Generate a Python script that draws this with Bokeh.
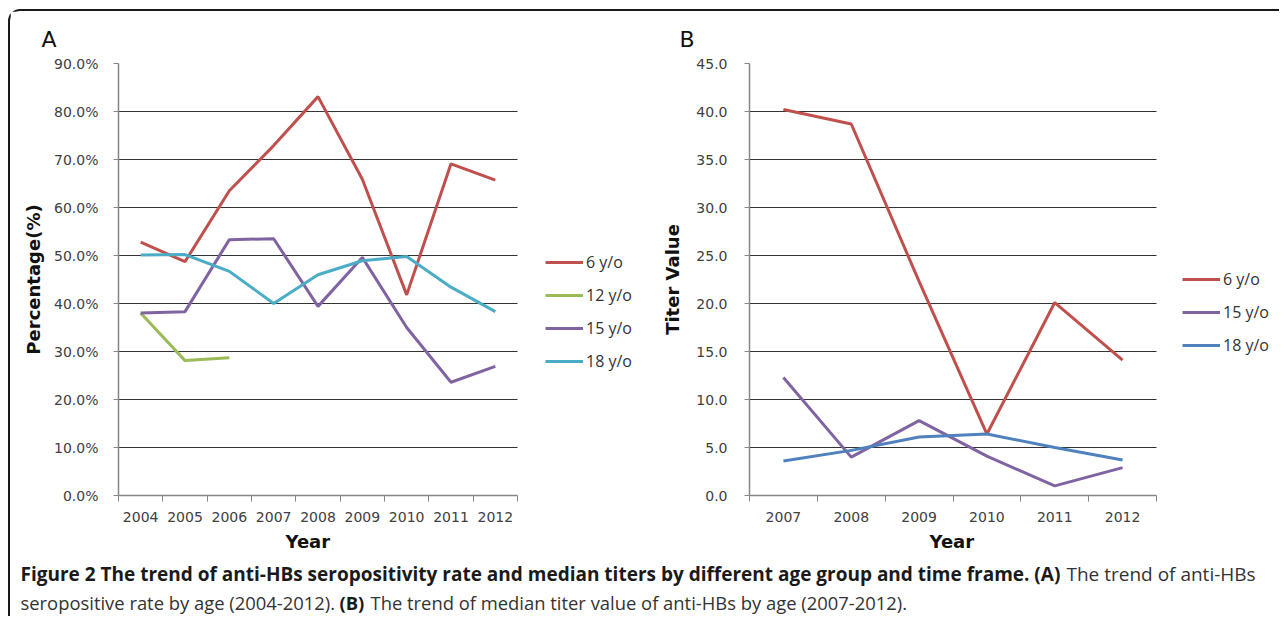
from bokeh.plotting import figure
from bokeh.models import Range1d, FixedTicker, PrintfTickFormatter, Legend, LegendItem, Title
from bokeh.layouts import row, column
from bokeh.embed import file_html
from bokeh.resources import INLINE
from bokeh.core.properties import value

# ---------------- data ----------------
years_a = ["2004", "2005", "2006", "2007", "2008", "2009", "2010", "2011", "2012"]
pct_6 = [52.8, 48.7, 63.5, 72.9, 83.1, 65.9, 41.8, 69.1, 65.7]
pct_12 = [38.0, 28.1, 28.7]
pct_15 = [38.0, 38.3, 53.3, 53.5, 39.4, 49.6, 35.0, 23.6, 26.9]
pct_18 = [50.1, 50.2, 46.7, 40.0, 46.0, 48.9, 49.8, 43.4, 38.3]
yticks_a = [0, 10, 20, 30, 40, 50, 60, 70, 80, 90]

years_b = ["2007", "2008", "2009", "2010", "2011", "2012"]
titer_6 = [40.2, 38.7, 22.3, 6.4, 20.1, 14.1]
titer_15 = [12.3, 4.0, 7.8, 4.1, 1.0, 2.9]
titer_18 = [3.6, 4.7, 6.1, 6.4, 5.0, 3.7]
yticks_b = [0, 5, 10, 15, 20, 25, 30, 35, 40, 45]

RED = "#C0504D"
GREEN = "#9BBB59"
PURPLE = "#8064A2"
CYAN = "#4BACC6"
BLUE = "#4F81BD"

TICK_FONT = "DejaVu Sans"


def make_panel(title, years, yticks, ymax, fmt, ylabel, plot_w, extra_w, frame_h,
               mb_left, mb_top, mb_bottom, title_offset, xlabel_offset,
               ylab_standoff, ytick_standoff):
    n = len(years)
    # the frame also holds the legend area to the right of the plotted categories
    x_end = n * (plot_w + extra_w) / plot_w
    p = figure(frame_width=plot_w + extra_w, frame_height=frame_h, title=title,
               x_range=Range1d(0, x_end), y_range=Range1d(0, ymax),
               toolbar_location=None, output_backend="svg",
               min_border_left=mb_left, min_border_right=2,
               min_border_top=mb_top, min_border_bottom=mb_bottom)
    p.outline_line_color = None
    p.background_fill_color = "white"
    p.border_fill_color = "white"

    p.title.align = "left"
    p.title.offset = title_offset
    p.title.text_font = TICK_FONT
    p.title.text_font_size = "22px"
    p.title.text_font_style = "normal"
    p.title.text_color = "#111111"
    p.title.standoff = 23

    centers = [i + 0.5 for i in range(n)]
    xa = p.xaxis[0]
    xa.bounds = (0, n)
    xa.ticker = FixedTicker(ticks=centers, minor_ticks=list(range(n + 1)))
    xa.major_label_overrides = {c: y for c, y in zip(centers, years)}
    xa.major_tick_out = 0
    xa.major_tick_in = 0
    xa.minor_tick_out = 6
    xa.minor_tick_in = 0
    xa.minor_tick_line_color = "#868686"
    xa.axis_line_color = "#868686"
    xa.axis_line_width = 1.5
    xa.major_label_text_font = TICK_FONT
    xa.major_label_text_font_size = "14px"
    xa.major_label_text_color = "#404040"
    xa.major_label_standoff = 10

    # x axis title, centred under the category part of the frame
    xt = Title(text="Year", align="left", offset=xlabel_offset,
               text_font=TICK_FONT, text_font_style="bold", text_font_size="18px",
               text_color="#111111", standoff=9)
    p.add_layout(xt, "below")

    ya = p.yaxis[0]
    ya.ticker = FixedTicker(ticks=yticks, minor_ticks=[])
    ya.formatter = PrintfTickFormatter(format=fmt)
    ya.major_tick_out = 5
    ya.major_tick_in = 0
    ya.major_tick_line_color = "#868686"
    ya.minor_tick_line_color = None
    ya.axis_line_color = "#868686"
    ya.axis_line_width = 1.5
    ya.major_label_text_font = TICK_FONT
    ya.major_label_text_font_size = "14px"
    ya.major_label_text_color = "#404040"
    ya.major_label_standoff = ytick_standoff
    ya.axis_label = ylabel
    ya.axis_label_text_font = TICK_FONT
    ya.axis_label_text_font_style = "bold"
    ya.axis_label_text_font_size = "18px"
    ya.axis_label_text_color = "#111111"
    ya.axis_label_standoff = ylab_standoff

    p.xgrid.visible = False
    grid_ok = True
    try:
        p.ygrid.cross_bounds = (0, n)
    except Exception:
        grid_ok = False
    if grid_ok:
        p.ygrid.ticker = FixedTicker(ticks=yticks, minor_ticks=[])
        p.ygrid.grid_line_color = "#333333"
        p.ygrid.grid_line_width = 1.2
    else:
        p.ygrid.visible = False
        p.segment(x0=[0] * len(yticks), x1=[n] * len(yticks), y0=yticks, y1=yticks,
                  line_color="#333333", line_width=1.2)
    return p, centers


def add_legend(p, items, x, y):
    leg = Legend(items=items, location=(x, y), orientation="vertical",
                 glyph_width=38, glyph_height=20, label_height=20, spacing=11,
                 padding=0, margin=0, border_line_color=None,
                 background_fill_alpha=0, label_standoff=3,
                 label_text_font="Open Sans", label_text_font_size="16px",
                 label_text_color="#333333")
    p.add_layout(leg, "center")


FH = 432

# ---------------- panel A ----------------
PW_A, EX_A = 399, 120
pa, cx_a = make_panel("A", years_a, yticks_a, 90, "%.1f%%", "Percentage(%)",
                      PW_A, EX_A, FH, 108, 52, 61, -77, 167, 7, 15)
r6 = pa.line(cx_a, pct_6, line_color=RED, line_width=3)
r12 = pa.line(cx_a[:len(pct_12)], pct_12, line_color=GREEN, line_width=3)
r15 = pa.line(cx_a, pct_15, line_color=PURPLE, line_width=3)
r18 = pa.line(cx_a, pct_18, line_color=CYAN, line_width=3)
add_legend(pa, [LegendItem(label="6 y/o", renderers=[r6]),
                LegendItem(label="12 y/o", renderers=[r12]),
                LegendItem(label="15 y/o", renderers=[r15]),
                LegendItem(label="18 y/o", renderers=[r18])], PW_A + 28, 123)

# ---------------- panel B ----------------
PW_B, EX_B = 407, 120
pb, cx_b = make_panel("B", years_b, yticks_b, 45, "%.1f", "Titer Value",
                      PW_B, EX_B, FH, 110, 52, 61, -70, 180, 10, 17)
b6 = pb.line(cx_b, titer_6, line_color=RED, line_width=3)
b15 = pb.line(cx_b, titer_15, line_color=PURPLE, line_width=3)
b18 = pb.line(cx_b, titer_18, line_color=BLUE, line_width=3)
add_legend(pb, [LegendItem(label="6 y/o", renderers=[b6]),
                LegendItem(label="15 y/o", renderers=[b15]),
                LegendItem(label="18 y/o", renderers=[b18])], PW_B + 26, 139)

# ---------------- caption ----------------
cap = figure(width=1269, height=60, x_range=Range1d(0, 1269), y_range=Range1d(60, 0),
             toolbar_location=None, output_backend="svg", min_border=0,
             x_axis_type=None, y_axis_type=None)
cap.outline_line_color = None
cap.xgrid.visible = False
cap.ygrid.visible = False
cfont = value("Open Sans")
CS1 = "19px"
CS2 = "18.4px"
cap.text(x=[10], y=[17], text=["Figure 2 The trend of anti-HBs seropositivity rate and median titers by different age group and time frame. (A)"],
         text_font=cfont, text_font_style="bold", text_font_size=CS1,
         text_baseline="middle", text_color="#1a1a1a")
cap.text(x=[1056], y=[17], text=["The trend of anti-HBs"],
         text_font=cfont, text_font_size=CS1,
         text_baseline="middle", text_color="#333333")
cap.text(x=[10], y=[46], text=["seropositive rate by age (2004-2012)."],
         text_font=cfont, text_font_size=CS2,
         text_baseline="middle", text_color="#333333")
cap.text(x=[329], y=[46], text=["(B)"],
         text_font=cfont, text_font_style="bold", text_font_size=CS2,
         text_baseline="middle", text_color="#1a1a1a")
cap.text(x=[360], y=[46], text=["The trend of median titer value of anti-HBs by age (2007-2012)."],
         text_font=cfont, text_font_size=CS2,
         text_baseline="middle", text_color="#333333")

layout = column(row(pa, pb), cap,
                styles={"border-top": "2px solid #1a1a1a", "border-left": "2px solid #1a1a1a",
                        "border-top-left-radius": "12px", "background": "white",
                        "margin-left": "8px", "margin-top": "9px"})

open("out.html", "w").write(file_html(layout, INLINE))
